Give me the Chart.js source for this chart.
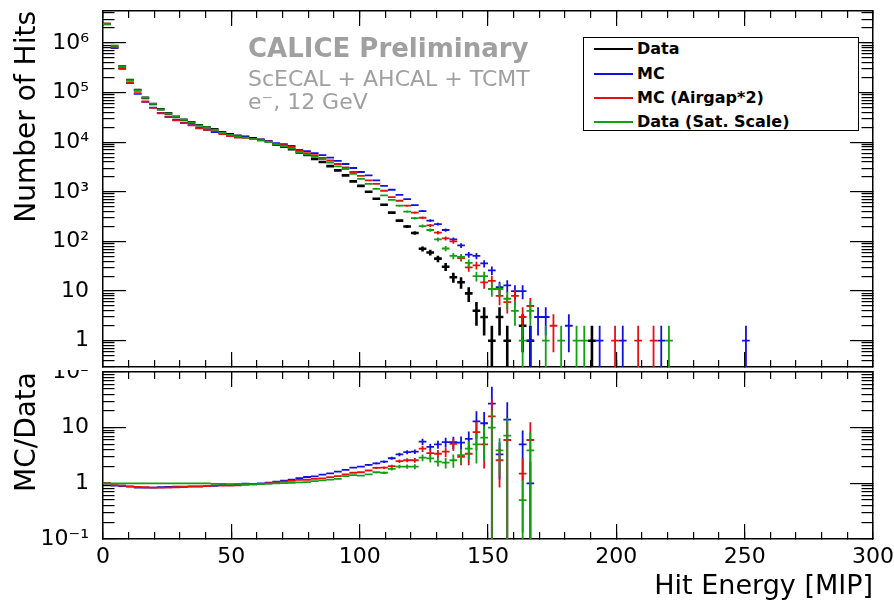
<!DOCTYPE html>
<html>
<head>
<meta charset="utf-8">
<script src="https://cdn.jsdelivr.net/npm/chart.js@4.4.1/dist/chart.umd.min.js"></script>
<style>
  body { margin: 0; background: #fff; }
  #page { position: relative; width: 894px; height: 606px; overflow: hidden; font-family: 'DejaVu Sans', sans-serif; }
  #page canvas { position: absolute; left: 0; }
  #hits { top: 0; }
  #ratio { top: 370px; }
  .note { position: absolute; left: 248px; color: #a0a0a0; white-space: nowrap; line-height: 1; }
  #legend { position: absolute; left: 583px; top: 37px; width: 276px; height: 94px; box-sizing: border-box;
            border: 1.5px solid #000; background: #fff; }
  #legend .swatch { position: absolute; left: 10px; width: 39px; }
  #legend .name { position: absolute; left: 53px; font-weight: bold; font-size: 16px; line-height: 1; white-space: nowrap; color: #000; }
</style>
</head>
<body>
<div id="page">
  <canvas id="hits" width="894" height="370"></canvas>
  <canvas id="ratio" width="894" height="236"></canvas>
  <div class="note" style="top:35px; font-size:26px; font-weight:bold;">CALICE Preliminary</div>
  <div class="note" style="top:68px; font-size:22px;">ScECAL + AHCAL + TCMT</div>
  <div class="note" style="top:91px; font-size:22px;">e⁻, 12 GeV</div>
  <div id="legend"></div>
</div>
<script>
// 3 MIP wide bins starting at 0
const BIN_WIDTH = 3;

// number of hits per bin
const dataCounts = [2.4e6, 8.7e5, 3.4e5, 1.78e5, 1.12e5, 7.8e4, 5.9e4, 4.6e4, 3.8e4, 3.24e4,
  2.82e4, 2.51e4, 2.19e4, 2.0e4, 1.82e4, 1.58e4, 1.45e4, 1.35e4, 1.29e4, 1.2e4,
  1.12e4, 1.02e4, 8900, 8100, 7200, 6200, 5500, 4600, 4000, 3300,
  2700, 2140, 1620, 1320, 1000, 724, 550, 380, 263, 200,
  148, 71, 60, 45, 31, 19, 15, 9, 4, 3,
  1, 3, 1, 0, 2, 1, 0, 0, 0, 0,
  0, 0, 0, 1, 0, 0, 0, 0, 0, 0,
  0, 0, 0, 0, 0, 0, 0, 0, 0, 0,
  0, 0, 0, 0];
const mcCounts = [2.4e6, 7.9e5, 3.0e5, 1.55e5, 9.4e4, 6.5e4, 4.95e4, 3.9e4, 3.27e4, 2.82e4,
  2.45e4, 2.21e4, 1.93e4, 1.78e4, 1.6e4, 1.55e4, 1.38e4, 1.3e4, 1.27e4, 1.17e4,
  1.12e4, 1.06e4, 9550, 9100, 8400, 7000, 6600, 6000, 5500, 4900,
  4200, 3630, 3020, 2510, 2140, 1700, 1320, 1100, 870, 710,
  540, 410, 263, 224, 170, 110, 83, 54, 51, 36,
  26, 12, 13, 10, 10, 1, 3, 3, 0, 0,
  2, 0, 0, 0, 1, 0, 0, 1, 0, 0,
  0, 0, 1, 0, 0, 0, 0, 0, 0, 0,
  0, 0, 0, 1];
const airgapCounts = [2.45e6, 8.1e5, 3.1e5, 1.57e5, 9.7e4, 6.6e4, 4.93e4, 3.83e4, 3.2e4, 2.74e4,
  2.43e4, 2.19e4, 1.91e4, 1.78e4, 1.68e4, 1.45e4, 1.32e4, 1.24e4, 1.22e4, 1.15e4,
  1.1e4, 1.04e4, 9200, 8700, 8000, 6750, 6000, 5500, 4800, 4270,
  3630, 3100, 2510, 2090, 1700, 1450, 1050, 780, 660, 525,
  380, 300, 210, 150, 115, 100, 46, 30, 33, 15,
  16, 8, 6, 8, 3, 5, 0, 0, 2, 0,
  0, 0, 0, 0, 0, 0, 1, 0, 0, 1,
  0, 1, 0, 0, 0, 0, 0, 0, 0, 0,
  0, 0, 0, 0];
const satCounts = [2.4e6, 8.7e5, 3.4e5, 1.78e5, 1.12e5, 7.8e4, 5.9e4, 4.6e4, 3.8e4, 3.24e4,
  2.82e4, 2.51e4, 2.19e4, 2.0e4, 1.78e4, 1.55e4, 1.4e4, 1.32e4, 1.24e4, 1.15e4,
  1.08e4, 1.0e4, 8900, 8200, 7400, 6300, 5600, 5100, 4570, 3900,
  3240, 2880, 2290, 1820, 1450, 1150, 850, 690, 525, 400,
  295, 204, 170, 110, 72, 51, 49, 37, 20, 20,
  11, 11, 7, 4, 1, 4, 0, 1, 0, 1,
  0, 1, 1, 0, 0, 0, 0, 0, 0, 0,
  0, 0, 0, 1, 0, 0, 0, 0, 0, 0,
  0, 0, 0, 0];

// ratio to Data per bin (lower pad)
const ratioMC = [1.00, 0.91, 0.89, 0.87, 0.84, 0.84, 0.84, 0.85, 0.86, 0.87,
  0.87, 0.88, 0.88, 0.89, 0.90, 0.96, 0.95, 0.97, 0.99, 0.98,
  1.00, 1.03, 1.07, 1.12, 1.16, 1.24, 1.30, 1.33, 1.43, 1.51,
  1.62, 1.74, 1.91, 2.0, 2.14, 2.29, 2.45, 2.82, 3.31, 3.63,
  3.72, 5.6, 4.5, 5.0, 5.5, 5.5, 5.4, 6.3, 13, 12,
  27, 3.3, 14, null, 5.0, 1.0];
const ratioAirgap = [1.02, 0.93, 0.91, 0.88, 0.86, 0.85, 0.84, 0.84, 0.84, 0.85,
  0.86, 0.87, 0.875, 0.89, 0.92, 0.91, 0.91, 0.92, 0.94, 0.955,
  0.98, 1.01, 1.035, 1.07, 1.11, 1.15, 1.16, 1.2, 1.23, 1.29,
  1.35, 1.45, 1.55, 1.58, 1.70, 1.90, 1.91, 2.04, 2.5, 2.6,
  2.6, 4.2, 3.5, 3.4, 3.7, 5.1, 3.0, 3.4, 8.3, 5.0,
  16, 2.6, 6.0, null, 1.5, 6.0];
const ratioSat = [1.0, 1.0, 1.0, 1.0, 1.0, 1.0, 1.0, 1.0, 1.0, 1.0,
  1.0, 1.0, 1.0, 1.0, 0.98, 0.98, 0.97, 0.98, 0.97, 0.955,
  0.965, 0.98, 1.0, 1.01, 1.02, 1.04, 1.05, 1.10, 1.13, 1.17,
  1.2, 1.35, 1.41, 1.38, 1.45, 1.58, 1.55, 1.82, 2.0, 2.0,
  2.0, 2.9, 2.8, 2.45, 2.35, 2.6, 3.2, 4.2, 5.0, 6.6,
  10, 3.9, 7.2, null, 0.5, 3.9];

const seriesNames = ['Data', 'MC', 'MC (Airgap*2)', 'Data (Sat. Scale)'];
const seriesColors = ['#000000', '#1010e0', '#e41010', '#12a012'];

const HITS_RANGE = [0.295, 4.4e6];
const RATIO_RANGE = [0.1, 100];
const X_RANGE = [0, 300];

const FONT = "'DejaVu Sans', sans-serif";
const SUP = { '-': '⁻', '0': '⁰', '1': '¹', '2': '²', '3': '³', '4': '⁴', '5': '⁵', '6': '⁶', '7': '⁷', '8': '⁸', '9': '⁹' };

function powerLabel(v) {
  const e = Math.log10(v);
  if (Math.abs(e - Math.round(e)) > 1e-6) return '';
  const n = Math.round(e);
  if (n === 0) return '1';
  if (n === 1) return '10';
  return '10' + String(n).split('').map(c => SUP[c]).join('');
}

function logTicks(range, majorOnly) {
  const out = [];
  for (let e = Math.floor(Math.log10(range[0])); e <= Math.ceil(Math.log10(range[1])); e++) {
    for (let m = 1; m <= (majorOnly ? 1 : 9); m++) {
      const v = m * Math.pow(10, e);
      if (v >= range[0] * 0.9999 && v <= range[1] * 1.0001) out.push({ value: v });
    }
  }
  return out;
}

// bin bar + vertical error bar for every filled bin, broken by null points
function histPoints(values, errors, floor) {
  const pts = [];
  values.forEach((v, i) => {
    if (!v) return;
    const lo = i * BIN_WIDTH, hi = lo + BIN_WIDTH, c = lo + BIN_WIDTH / 2;
    pts.push({ x: lo, y: v }, { x: hi, y: v }, { x: c, y: null });
    const e = errors[i];
    if (e > 0) pts.push({ x: c, y: Math.max(v - e, floor) }, { x: c, y: v + e }, { x: c, y: null });
  });
  return pts;
}

const poisson = counts => counts.map(n => Math.sqrt(n));
const ratioErr = (ratio, num, den) =>
  ratio.map((r, i) => (r && num[i] && den[i]) ? r * Math.sqrt(1 / num[i] + 1 / den[i]) : 0);

function dataset(i, points, width) {
  return {
    label: seriesNames[i], data: points,
    borderColor: seriesColors[i], backgroundColor: seriesColors[i],
    borderWidth: width, pointRadius: 0, pointHoverRadius: 0,
    fill: false, tension: 0, spanGaps: false,
    order: 4 - i, xAxisID: 'x', yAxisID: 'y',
  };
}

// one frame side: ticks point into the plot, size fixed so the frames line up
function axis(kind, position, o) {
  const horizontal = position === 'top' || position === 'bottom';
  const s = {
    type: kind === 'x' ? 'linear' : 'logarithmic',
    display: true,
    position,
    min: o.range[0], max: o.range[1],
    weight: o.major ? -1 : 0,
    afterFit: sc => {
      if (horizontal) sc.height = o.size; else sc.width = o.size;
      sc.paddingTop = sc.paddingBottom = sc.paddingLeft = sc.paddingRight = 0;
    },
    afterBuildTicks: sc => {
      if (kind === 'x') {
        const step = o.major ? 50 : 10;
        sc.ticks = [];
        for (let v = o.range[0]; v <= o.range[1]; v += step) sc.ticks.push({ value: v });
      } else {
        sc.ticks = logTicks(o.range, o.major);
      }
    },
    grid: { display: true, drawOnChartArea: false, drawTicks: true, tickLength: -o.len, color: '#000', lineWidth: 1.2 },
    border: { display: !o.major, color: '#000', width: 1.5 },
    ticks: Object.assign({ display: false, autoSkip: false, maxRotation: 0, color: '#000' }, o.ticks || {}),
  };
  if (o.title) s.title = o.title;
  return s;
}

function frameScales(yRange, sizes, yTitle, xLabels) {
  const yTicks = { display: true, padding: 25.5, font: { family: FONT, size: 22 }, callback: v => powerLabel(v) };
  const xTicks = xLabels ? {
    display: true, padding: 12.3, font: { family: FONT, size: 22 },
    callback: v => (v % 50 === 0 ? String(v) : ''),
  } : undefined;
  return {
    x: axis('x', 'bottom', { range: X_RANGE, len: 7, size: sizes.bottom, ticks: xTicks, title: xLabels ? {
      display: true, text: 'Hit Energy [MIP]', align: 'end', color: '#000',
      font: { family: FONT, size: 27 }, padding: { top: 0, bottom: 3 },
    } : undefined }),
    xMajor: axis('x', 'bottom', { range: X_RANGE, len: 15, size: 0, major: true }),
    xTop: axis('x', 'top', { range: X_RANGE, len: 7, size: sizes.top }),
    xTopMajor: axis('x', 'top', { range: X_RANGE, len: 15, size: 0, major: true }),
    y: axis('y', 'left', { range: yRange, len: 11.5, size: 103, ticks: yTicks, title: {
      display: true, text: yTitle, align: 'end', color: '#000',
      font: { family: FONT, size: 28 }, padding: { top: 11, bottom: 0 },
    } }),
    yMajor: axis('y', 'left', { range: yRange, len: 23, size: 0, major: true }),
    yRight: axis('y', 'right', { range: yRange, len: 11.5, size: 21 }),
    yRightMajor: axis('y', 'right', { range: yRange, len: 23, size: 0, major: true }),
  };
}

const commonOptions = {
  responsive: false,
  animation: false,
  devicePixelRatio: 1,
  layout: { padding: 0, autoPadding: false },
  plugins: { legend: { display: false }, tooltip: { enabled: false }, title: { display: false } },
  events: [],
};

const hitsSets = [dataCounts, mcCounts, airgapCounts, satCounts];
new Chart(document.getElementById('hits'), {
  type: 'line',
  data: {
    datasets: hitsSets.map((counts, i) =>
      dataset(i, histPoints(counts, poisson(counts), HITS_RANGE[0]), i === 0 ? 2.6 : 1.8)),
  },
  options: Object.assign({}, commonOptions, {
    scales: frameScales(HITS_RANGE, { top: 11, bottom: 3 }, 'Number of Hits', false),
  }),
});

const ratioSets = [[ratioMC, mcCounts], [ratioAirgap, airgapCounts], [ratioSat, satCounts]];
new Chart(document.getElementById('ratio'), {
  type: 'line',
  data: {
    datasets: ratioSets.map(([ratio, num], j) =>
      dataset(j + 1, histPoints(ratio, ratioErr(ratio, num, dataCounts), RATIO_RANGE[0]), 1.8)),
  },
  options: Object.assign({}, commonOptions, {
    scales: frameScales(RATIO_RANGE, { top: 2, bottom: 67 }, 'MC/Data', true),
  }),
});

// legend box
const legend = document.getElementById('legend');
const rowCenters = [11, 35.5, 59.5, 83.5];
seriesNames.forEach((name, i) => {
  const sw = document.createElement('div');
  sw.className = 'swatch';
  sw.style.top = (rowCenters[i] - 1) + 'px';
  sw.style.height = '2px';
  sw.style.background = seriesColors[i];
  const tx = document.createElement('div');
  tx.className = 'name';
  tx.style.top = (rowCenters[i] - 7.7) + 'px';
  tx.textContent = name;
  legend.appendChild(sw);
  legend.appendChild(tx);
});
</script>
</body>
</html>
